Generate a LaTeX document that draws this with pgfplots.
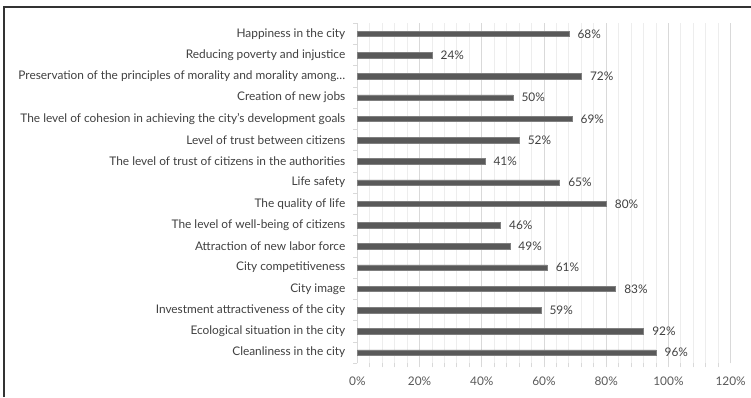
\documentclass[border=0pt]{standalone}
\usepackage{pgfplots}
\pgfplotsset{compat=1.18}
\usepackage{fontspec}
\setmainfont{Lato}
\definecolor{barfill}{HTML}{595959}
\definecolor{barline}{HTML}{7F7F7F}
\definecolor{labtxt}{HTML}{404040}
\definecolor{ticktxt}{HTML}{595959}
\definecolor{majgrid}{HTML}{D9D9D9}
\definecolor{mingrid}{HTML}{EDEDED}
\definecolor{frame}{HTML}{333333}

\begin{document}
\begin{tikzpicture}
\useasboundingbox (0,0) rectangle (563.25pt,297.75pt);
% frame of the chart area (left and top edges)
\draw[frame,line width=1.1pt] (3pt,0pt) -- (3pt,292.5pt) -- (563.25pt,292.5pt);
\begin{axis}[
  at={(268pt,25.3pt)}, anchor=south west,
  scale only axis,
  width=280pt, height=255pt,
  xmin=0, xmax=120,
  ymin=-0.5, ymax=15.5,
  xbar, bar width=4.3pt,
  xtick={0,20,...,120},
  minor xtick={4,8,...,116},
  xmajorgrids, xminorgrids,
  major x grid style={majgrid, line width=0.6pt},
  minor x grid style={mingrid, line width=0.6pt},
  xticklabel={\pgfmathprintnumber{\tick}\%},
  /pgf/number format/assume math mode=true,
  xticklabel style={font=\fontsize{8.9}{10}\selectfont, text=ticktxt, yshift=-7pt},
  ytick={0,...,15},
  minor ytick={-0.5,0.5,...,15.5},
  yticklabels={
    Cleanliness in the city,
    Ecological situation in the city,
    Investment attractiveness of the city,
    City image,
    City competitiveness,
    Attraction of new labor force,
    The level of well-being of citizens,
    The quality of life,
    Life safety,
    The level of trust of citizens in the authorities,
    Level of trust between citizens,
    The level of cohesion in achieving the city's development goals,
    Creation of new jobs,
    Preservation of the principles of morality and morality among…,
    Reducing poverty and injustice,
    Happiness in the city},
  yticklabel style={font=\fontsize{8.9}{10}\selectfont, text=labtxt, xshift=-5.5pt},
  major tick length=0pt,
  minor tick length=3pt,
  tick align=outside,
  minor tick style={majgrid, line width=0.6pt},
  axis x line*=bottom,
  axis y line*=left,
  x axis line style={draw=none},
  y axis line style={majgrid, line width=0.6pt},
  clip=false,
  nodes near coords={\pgfmathprintnumber{\pgfplotspointmeta}\%},
  nodes near coords style={font=\fontsize{8.9}{10}\selectfont, text=labtxt, anchor=west, xshift=3pt},
]
\addplot[fill=barfill, draw=barline, line width=0.4pt] coordinates {
  (96,0) (92,1) (59,2) (83,3) (61,4) (49,5) (46,6) (80,7)
  (65,8) (41,9) (52,10) (69,11) (50,12) (72,13) (24,14) (68,15)
};
\end{axis}
\end{tikzpicture}
\end{document}
